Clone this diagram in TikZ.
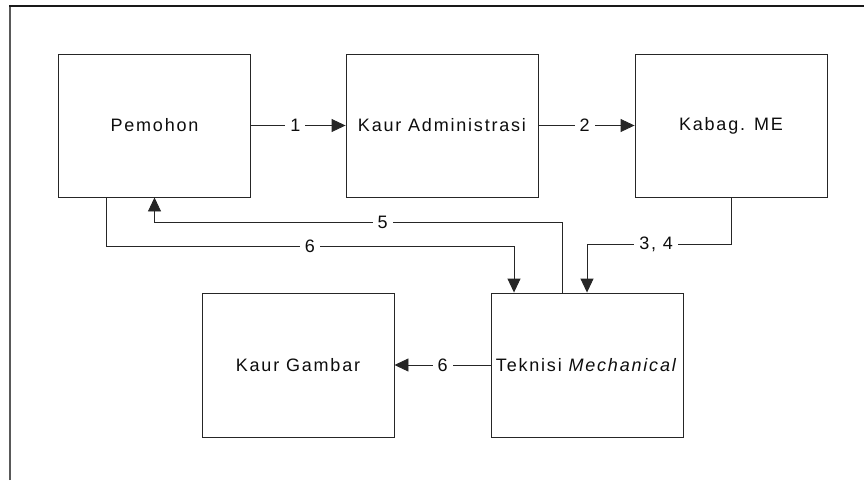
\documentclass[tikz,border=0pt]{standalone}
\usepackage{fontspec}
\setmainfont[LetterSpace=10]{Liberation Sans}
\usetikzlibrary{arrows.meta}
\begin{document}
\begin{tikzpicture}[x=1pt,y=-1pt,
  every node/.style={font=\fontsize{18}{22}\selectfont,text=black!95},
  unit/.style={draw=black!85,line width=0.9pt,minimum width=192pt,minimum height=143pt,inner sep=0pt},
  arr/.style={draw=black!85,line width=0.9pt,-{Triangle[length=14pt,width=13pt]}},
  lbl/.style={fill=white,inner xsep=5pt,inner ysep=1pt}]
\useasboundingbox (0,0) rectangle (864,480);
% page frame
\draw[black!65,line width=1.4pt] (10,480) -- (10,6);
\draw[black!90,line width=1.1pt] (9.3,6) -- (864,6);

% units
\node[unit] (pem) at (154.5,125.5) {Pemohon};
\node[unit] (adm) at (442,125.5) {Kaur Administrasi};
\node[unit] (kab) at (731,125.5) {Kabag. ME};
\node[unit,minimum height=144pt] (tek) at (587,365) {Teknisi \textit{Mechanical}};
\node[unit,minimum height=144pt] (gam) at (298,365) {Kaur Gambar};

% flows
\draw[arr] (pem.east) -- node[lbl,pos=0.47]{1} (adm.west);
\draw[arr] (adm.east) -- node[lbl,pos=0.48]{2} (kab.west);
\draw[arr] (kab.south) |- node[lbl,pos=0.76]{3, 4} ([yshift=48pt]tek.north) -- (tek.north);
\draw[arr] ([xshift=-25pt]tek.north) |- node[lbl,pos=0.72]{5} ([yshift=-25pt]pem.south) -- (pem.south);
\draw[arr] ([xshift=-48.5pt]pem.south) -- ++(0,49) -| node[lbl,pos=0.25]{6} ([xshift=-73pt]tek.north);
\draw[arr] (tek.west) -- node[lbl]{6} (gam.east);
\end{tikzpicture}
\end{document}
